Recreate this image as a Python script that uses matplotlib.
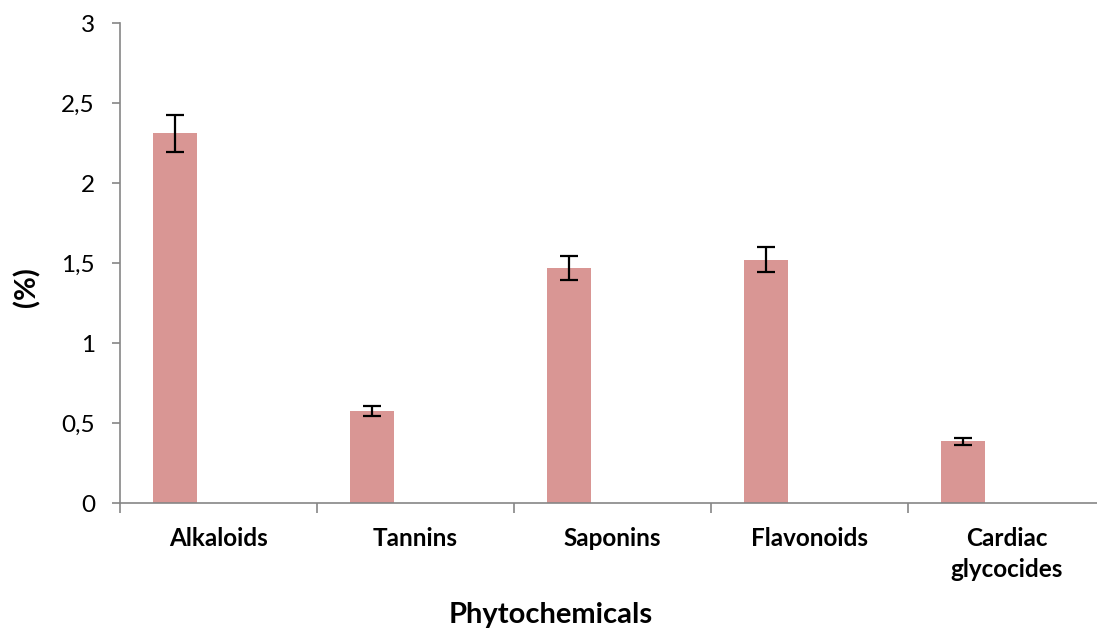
import matplotlib.pyplot as plt
from matplotlib.ticker import FuncFormatter

# Data
categories = ["Alkaloids", "Tannins", "Saponins", "Flavonoids", "Cardiac\nglycocides"]
values = [2.31, 0.575, 1.47, 1.52, 0.385]
errors = [0.117, 0.033, 0.075, 0.077, 0.022]

plt.rcParams["font.family"] = ["Lato", "DejaVu Sans"]

fig = plt.figure(figsize=(10.97, 6.3), dpi=100)
ax = fig.add_axes([120 / 1097, 127 / 630, 985 / 1097, 480 / 630])

pos = [i - 0.222 for i in range(len(categories))]
ax.bar(pos, values, width=0.222, color="#D99694", zorder=2)
ax.errorbar(pos, values, yerr=errors, fmt="none", ecolor="black",
            elinewidth=1.6, capsize=6.5, capthick=1.6, zorder=3)

ax.set_xlim(-0.5, len(categories) - 0.5)
ax.set_ylim(0, 3)
ax.set_yticks([0, 0.5, 1, 1.5, 2, 2.5, 3])
ax.yaxis.set_major_formatter(FuncFormatter(lambda v, p: f"{v:g}".replace(".", ",")))

# category boundary ticks, labels at centres
ax.set_xticks([i - 0.5 for i in range(len(categories) + 1)])
ax.set_xticklabels([])
ax.set_xticks(range(len(categories)), minor=True)
ax.set_xticklabels(categories, minor=True, fontsize=17.5, fontweight="bold",
                   linespacing=1.45)
ax.tick_params(axis="x", which="minor", length=0, pad=17)
ax.tick_params(axis="x", which="major", length=7, width=1.2, color="#868686")
ax.tick_params(axis="y", length=6, width=1.2, color="#868686", labelsize=17.5, pad=12)

for s in ["top", "right"]:
    ax.spines[s].set_visible(False)
for s in ["left", "bottom"]:
    ax.spines[s].set_color("#868686")
    ax.spines[s].set_linewidth(1.2)

fig.text(27 / 1097, 1 - 287 / 630, "(%)", rotation=90, ha="center", va="center",
         fontsize=21, fontweight="bold")
fig.text(551 / 1097, 1 - 615 / 630, "Phytochemicals", ha="center", va="center",
         fontsize=21, fontweight="bold")

fig.savefig("out.png", dpi=100)
plt.close(fig)
